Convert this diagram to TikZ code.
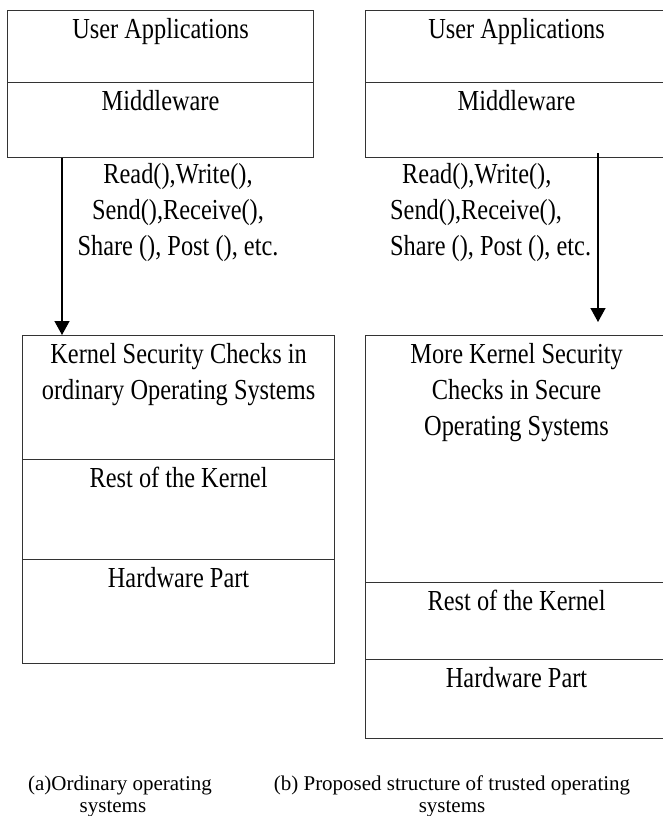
\documentclass[tikz,border=0pt]{standalone}
\usepackage{fontspec}
\setmainfont{Liberation Serif}[FakeStretch=0.84]
\newfontfamily\capfont{Liberation Serif}
\usetikzlibrary{arrows.meta}

\begin{document}
\begin{tikzpicture}[x=1pt, y=-1pt,
    layer/.style={draw=black!80, line width=1.1pt, anchor=north west, inner sep=0pt},
    txt/.style={anchor=base, font=\fontsize{29}{36}\selectfont, align=center, inner sep=0pt},
    figcap/.style={anchor=base, font=\capfont\fontsize{21}{22}\selectfont, align=center, inner sep=0pt},
    call/.style={-{Triangle[width=15pt,length=14pt]}, line width=1.4pt}]
    \useasboundingbox (0,0) rectangle (663,816);

    % (a) ordinary operating system: upper layers
    \node[layer, minimum width=306pt, minimum height=72pt] (uaA) at (7,10) {};
    \node[layer, minimum width=306pt, minimum height=75pt] (mwA) at (7,82) {};
    \node[txt] (tUaA) at ([yshift=-28pt]uaA.north) {User Applications};
    \node[txt] (tMwA) at ([yshift=-28pt]mwA.north) {Middleware};

    % (a) kernel and hardware (base anchor = last line)
    \node[layer, minimum width=312pt, minimum height=124pt] (ksA) at (22,335) {};
    \node[layer, minimum width=312pt, minimum height=100pt] (rkA) at (22,459) {};
    \node[layer, minimum width=312pt, minimum height=104pt] (hwA) at (22,559) {};
    \node[txt] (tKsA) at ([yshift=-64pt]ksA.north) {Kernel Security Checks in\\ordinary Operating Systems};
    \node[txt] (tRkA) at ([yshift=-28pt]rkA.north) {Rest of the Kernel};
    \node[txt] (tHwA) at ([yshift=-28pt]hwA.north) {Hardware Part};

    % (a) system calls
    \node[txt] (opsA) at (178,255) {Read(),Write(),\\Send(),Receive(),\\Share (), Post (), etc.};
    \draw[call] ([xshift=55pt]mwA.south west) -- ([xshift=40pt]ksA.north west);

    % (b) trusted operating system: upper layers
    \node[layer, minimum width=302pt, minimum height=72pt] (uaB) at (365,10) {};
    \node[layer, minimum width=302pt, minimum height=75pt] (mwB) at (365,82) {};
    \node[txt] (tUaB) at ([yshift=-28pt]uaB.north) {User Applications};
    \node[txt] (tMwB) at ([yshift=-28pt]mwB.north) {Middleware};

    % (b) kernel and hardware
    \node[layer, minimum width=302pt, minimum height=247pt] (ksB) at (365,335) {};
    \node[layer, minimum width=302pt, minimum height=77pt] (rkB) at (365,582) {};
    \node[layer, minimum width=302pt, minimum height=79pt] (hwB) at (365,659) {};
    \node[txt] (tKsB) at ([yshift=-100pt]ksB.north) {More Kernel Security\\Checks in Secure\\Operating Systems};
    \node[txt] (tRkB) at ([yshift=-28pt]rkB.north) {Rest of the Kernel};
    \node[txt] (tHwB) at ([yshift=-28pt]hwB.north) {Hardware Part};

    % (b) system calls
    \node[txt, align=left, anchor=base west] (opsB) at (390,255) {\hspace*{12pt}Read(),Write(),\\Send(),Receive(),\\Share (), Post (), etc.};
    \draw[call] ([xshift=233pt, yshift=5pt]mwB.south west) -- ([xshift=233pt, yshift=13pt]ksB.north west);

    % captions
    \node[figcap] (capA) at (120,812) {(a)Ordinary operating\\systems\hspace*{14pt}};
    \node[figcap] (capB) at (452,812) {(b) Proposed structure of trusted operating\\systems};
\end{tikzpicture}
\end{document}
